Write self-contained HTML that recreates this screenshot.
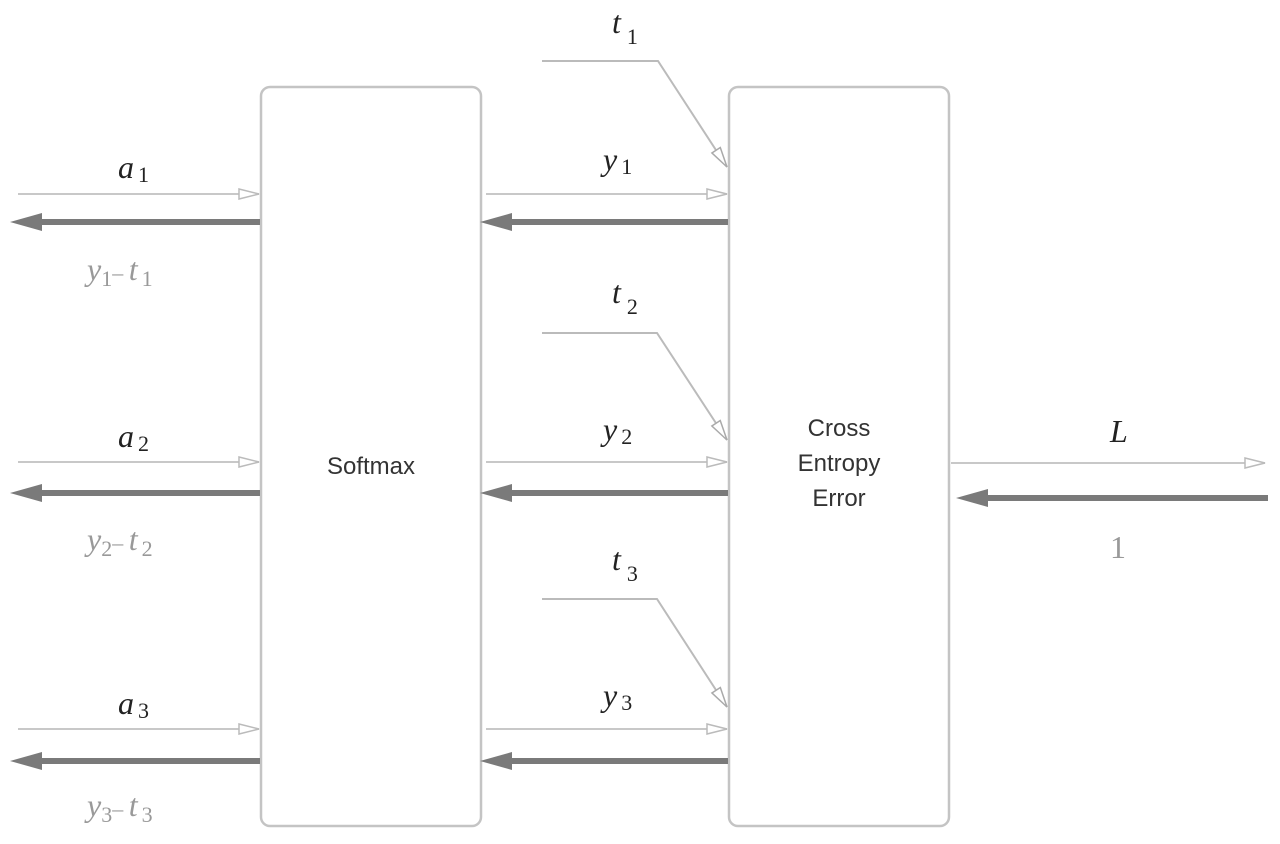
<!DOCTYPE html>
<html><head><meta charset="utf-8"><style>
html,body{margin:0;padding:0;background:#fff;}
svg{display:block;}
.m{font-family:"Liberation Serif",serif;font-style:italic;font-size:32px;}
.s{font-family:"Liberation Serif",serif;font-style:normal;font-size:22px;}
.d{fill:#222;} .g{fill:#999;}
.lbl{font-family:"Liberation Sans",sans-serif;font-size:24px;fill:#333;}
</style></head><body>
<svg width="1280" height="844" viewBox="0 0 1280 844" xmlns="http://www.w3.org/2000/svg">
<defs>
<marker id="op" markerWidth="24" markerHeight="12" refX="22" refY="6" orient="auto" markerUnits="userSpaceOnUse">
<path d="M2,1 L22,6 L2,11 Z" fill="#fff" stroke="#bbb" stroke-width="1.5"/></marker>
<marker id="op2" markerWidth="24" markerHeight="12" refX="22" refY="6" orient="auto" markerUnits="userSpaceOnUse">
<path d="M2,1 L22,6 L2,11 Z" fill="#fff" stroke="#aaa" stroke-width="1.5"/></marker>
</defs>
<g fill="none" stroke="#c4c4c4" stroke-width="2.5">
<rect x="261" y="87" width="220" height="739" rx="9"/>
<rect x="729" y="87" width="220" height="739" rx="9"/>
</g>
<!-- thin forward lines -->
<g stroke="#c8c8c8" stroke-width="2" fill="none" marker-end="url(#op)">
<line x1="18" y1="194" x2="259" y2="194"/>
<line x1="18" y1="462" x2="259" y2="462"/>
<line x1="18" y1="729" x2="259" y2="729"/>
<line x1="486" y1="194" x2="727" y2="194"/>
<line x1="486" y1="462" x2="727" y2="462"/>
<line x1="486" y1="729" x2="727" y2="729"/>
<line x1="951" y1="463" x2="1265" y2="463"/>
</g>
<g stroke="#bbb" stroke-width="2" fill="none" marker-end="url(#op2)">
<polyline points="542,61 658,61 727,167"/>
<polyline points="542,333 657,333 727,440"/>
<polyline points="542,599 657,599 727,707"/>
</g>
<!-- thick backward arrows -->
<g fill="#7a7a7a">
<rect x="38" y="219" width="222" height="6"/><path d="M10,222 L42,213 L42,231 Z"/>
<rect x="38" y="490" width="222" height="6"/><path d="M10,493 L42,484 L42,502 Z"/>
<rect x="38" y="758" width="222" height="6"/><path d="M10,761 L42,752 L42,770 Z"/>
<rect x="508" y="219" width="220" height="6"/><path d="M480,222 L512,213 L512,231 Z"/>
<rect x="508" y="490" width="220" height="6"/><path d="M480,493 L512,484 L512,502 Z"/>
<rect x="508" y="758" width="220" height="6"/><path d="M480,761 L512,752 L512,770 Z"/>
<rect x="984" y="495" width="284" height="6"/><path d="M956,498 L988,489 L988,507 Z"/>
</g>
<!-- labels -->
<text x="118" y="178" class="d"><tspan class="m">a</tspan><tspan class="s" dx="4" dy="4">1</tspan></text>
<text x="118" y="447" class="d"><tspan class="m">a</tspan><tspan class="s" dx="4" dy="4">2</tspan></text>
<text x="118" y="714" class="d"><tspan class="m">a</tspan><tspan class="s" dx="4" dy="4">3</tspan></text>
<text x="87" y="280" class="g"><tspan class="m">y</tspan><tspan class="s" dy="6">1</tspan><tspan class="s" dy="-6">– </tspan><tspan class="m">t</tspan><tspan class="s" dx="4" dy="6">1</tspan></text>
<text x="87" y="550" class="g"><tspan class="m">y</tspan><tspan class="s" dy="6">2</tspan><tspan class="s" dy="-6">– </tspan><tspan class="m">t</tspan><tspan class="s" dx="4" dy="6">2</tspan></text>
<text x="87" y="816" class="g"><tspan class="m">y</tspan><tspan class="s" dy="6">3</tspan><tspan class="s" dy="-6">– </tspan><tspan class="m">t</tspan><tspan class="s" dx="4" dy="6">3</tspan></text>
<text x="603" y="170" class="d"><tspan class="m">y</tspan><tspan class="s" dx="4" dy="4">1</tspan></text>
<text x="603" y="440" class="d"><tspan class="m">y</tspan><tspan class="s" dx="4" dy="4">2</tspan></text>
<text x="603" y="706" class="d"><tspan class="m">y</tspan><tspan class="s" dx="4" dy="4">3</tspan></text>
<text x="612" y="33" class="d"><tspan class="m">t</tspan><tspan class="s" dx="6" dy="11">1</tspan></text>
<text x="612" y="303" class="d"><tspan class="m">t</tspan><tspan class="s" dx="6" dy="11">2</tspan></text>
<text x="612" y="570" class="d"><tspan class="m">t</tspan><tspan class="s" dx="6" dy="11">3</tspan></text>
<text x="1110" y="442" class="m d">L</text>
<text x="1118" y="558" class="g" style="font-family:'Liberation Serif',serif;font-size:32px;" text-anchor="middle">1</text>
<text x="371" y="474" class="lbl" text-anchor="middle">Softmax</text>
<text x="839" y="436" class="lbl" text-anchor="middle">Cross</text>
<text x="839" y="471" class="lbl" text-anchor="middle">Entropy</text>
<text x="839" y="506" class="lbl" text-anchor="middle">Error</text>
</svg>
</body></html>
